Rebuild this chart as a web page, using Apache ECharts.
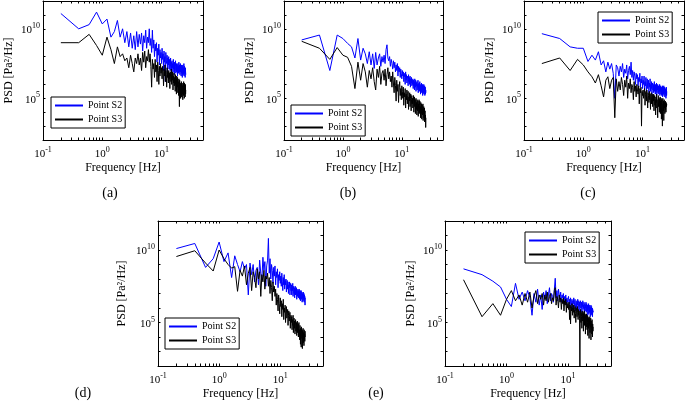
<!DOCTYPE html>
<html>
<head>
<meta charset="utf-8">
<script src="https://cdn.jsdelivr.net/npm/echarts@6/dist/echarts.min.js"></script>
<style>html,body{margin:0;padding:0;background:#fff}#c{width:685px;height:403px}</style>
</head>
<body>
<div id="c"></div>
<script>
// Frequency [Hz] of every PSD estimate (shared by all panels)
const freq = [
 0.2,0.4,0.6,0.8,1.0,1.2,1.4,1.6,1.8,2.0,
 2.2,2.4,2.6,2.8,3.0,3.2,3.4,3.6,3.8,4.0,
 4.2,4.4,4.6,4.8,5.0,5.2,5.4,5.6,5.8,6.0,
 6.2,6.4,6.6,6.8,7.0,7.2,7.4,7.6,7.8,8.0,
 8.2,8.4,8.6,8.8,9.0,9.2,9.4,9.6,9.8,10.0,
 10.2,10.4,10.6,10.8,11.0,11.2,11.4,11.6,11.8,12.0,
 12.2,12.4,12.6,12.8,13.0,13.2,13.4,13.6,13.8,14.0,
 14.2,14.4,14.6,14.8,15.0,15.2,15.4,15.6,15.8,16.0,
 16.2,16.4,16.6,16.8,17.0,17.2,17.4,17.6,17.8,18.0,
 18.2,18.4,18.6,18.8,19.0,19.2,19.4,19.6,19.8,20.0,
 20.2,20.4,20.6,20.8,21.0,21.2,21.4,21.6,21.8,22.0,
 22.2,22.4,22.6,22.8,23.0,23.2,23.4,23.6,23.8,24.0,
 24.2,24.4,24.6,24.8,25.0,25.2,25.4,25.6
];

// PSD values as log10(PSD / (Pa^2/Hz))
const s2_a = [
 11.1,10.0,10.3,11.2,10.35,10.7,9.4,9.8,10.6,9.4,
 10.0,9.0,9.8,8.7,9.7,8.6,9.5,8.5,9.8,8.7,
 9.6,8.9,9.7,8.4,9.5,9.0,9.9,8.6,9.4,9.0,
 10.0,8.8,9.3,8.3,9.9,8.6,9.2,8.0,8.9,8.4,
 9.0,7.6,8.6,8.1,8.9,7.4,8.5,7.9,8.3,7.5,
 8.6,7.8,8.2,7.0,8.4,7.6,8.0,6.2,8.3,7.7,7.5,8.1,6.9,7.9,7.4,8.0,7.1,7.8,7.5,7.0,7.9,7.3,7.6,6.8,7.7,
 7.2,7.5,6.9,7.8,7.1,7.4,6.7,7.6,7.0,7.3,7.7,6.8,7.2,7.5,6.9,7.4,7.1,6.6,7.5,7.0,7.3,6.8,7.6,7.1,6.9,
 7.4,6.7,7.2,7.5,6.9,7.1,6.6,7.4,7.0,6.8,7.3,6.5,7.1,7.4,6.9,6.7,7.2,6.8,7.5,6.6,7.0,7.3,6.8,7.1,6.5,7.2,6.9,6.7
];
const s3_a = [
 9.0,9.0,9.6,8.8,8.1,9.4,8.5,7.5,8.7,8.0,
 8.2,7.7,7.9,7.2,8.1,7.5,6.9,7.9,7.5,8.2,
 7.4,7.9,7.0,8.3,7.6,8.4,7.2,8.0,7.7,8.5,
 7.6,8.2,7.3,5.8,7.8,7.1,7.5,6.5,7.8,6.9,
 7.4,6.2,7.6,7.0,6.0,7.3,6.6,7.5,6.8,7.2,
 6.4,7.3,6.9,5.9,7.1,6.6,7.4,6.2,7.0,6.7,5.8,7.2,6.5,6.9,6.1,7.0,6.4,6.8,5.7,6.9,6.6,6.2,7.1,6.0,6.7,
 6.3,6.9,5.6,6.6,6.1,6.8,5.9,6.5,6.2,5.5,6.7,6.0,6.4,5.3,6.6,6.1,5.8,6.5,5.4,6.2,6.0,5.2,6.4,5.6,4.4,
 6.3,5.0,6.1,5.7,5.0,6.0,5.5,6.2,5.1,5.8,6.1,5.3,5.9,4.9,6.0,5.6,5.2,6.2,5.4,5.8,5.0,6.1,5.5,5.7,5.1,6.0,5.3,5.6
];
const s2_b = [
 9.2,9.55,7.0,9.55,9.3,8.95,8.7,7.9,9.3,7.75,
 8.6,8.2,7.5,8.35,7.4,8.2,7.15,8.3,7.4,7.9,
 8.2,7.3,8.0,7.6,8.1,7.5,8.5,8.85,7.9,7.7,
 8.0,7.3,7.8,7.5,7.1,7.7,7.2,7.6,6.9,7.4,
 7.0,7.5,6.6,7.3,6.9,7.2,6.5,7.1,6.8,6.4,
 7.0,6.6,6.9,6.2,6.8,6.5,6.0,6.9,6.3,6.7,6.1,6.6,6.4,5.9,6.7,6.2,6.5,6.0,6.6,5.8,6.4,6.1,6.5,5.9,6.3,
 6.0,6.4,5.7,6.3,5.9,6.2,5.6,6.4,6.0,5.8,6.3,5.5,6.1,5.9,6.2,5.6,6.0,5.8,6.3,5.4,6.0,5.7,6.1,5.5,5.9,
 6.2,5.6,5.9,5.3,6.0,5.7,5.5,6.1,5.4,5.8,5.6,6.0,5.2,5.7,5.9,5.4,5.6,6.0,5.3,5.7,5.5,5.9,5.2,5.6,5.8,5.3,5.6,5.4
];
const s3_b = [
 9.1,8.6,7.8,8.65,8.1,7.95,7.3,5.7,7.6,6.3,
 7.5,6.9,5.8,7.0,6.4,7.2,6.2,5.6,7.1,6.5,
 7.3,6.0,6.8,7.0,6.3,7.1,5.9,6.7,7.2,6.4,
 6.9,6.2,6.6,5.8,6.9,6.1,5.4,6.5,5.9,4.8,
 6.3,5.5,6.0,4.7,5.8,6.2,5.2,5.7,4.9,5.9,
 5.5,5.0,5.8,4.5,5.4,5.1,5.7,4.3,5.3,4.9,5.6,4.6,5.2,5.5,4.2,5.1,4.8,5.4,4.4,5.0,5.3,4.1,4.9,5.2,4.6,
 5.0,4.3,4.8,5.2,4.0,4.7,5.1,4.4,4.9,3.9,4.6,5.0,4.2,4.7,3.8,4.9,4.5,4.1,4.8,3.7,4.6,4.3,4.9,3.9,4.5,
 4.8,4.0,4.4,3.6,4.7,4.2,3.9,4.6,3.5,4.3,4.5,3.8,4.1,4.6,3.4,4.2,3.9,4.4,3.6,4.0,4.3,3.3,3.9,4.1,3.5,3.8,2.9,3.6
];
const s2_c = [
 9.65,9.3,8.7,8.6,8.6,7.65,8.1,7.75,8.35,7.4,
 7.7,6.9,7.6,7.1,7.5,6.8,5.0,7.4,7.2,6.6,
 7.3,6.9,7.5,6.5,7.1,6.8,7.4,6.4,7.0,7.3,
 6.7,7.6,6.5,7.0,6.3,6.9,6.6,6.0,6.8,6.4,
 6.7,5.9,6.5,6.2,6.8,5.8,6.4,6.1,6.6,5.7,
 6.3,6.0,6.6,5.6,6.2,5.9,6.5,5.5,6.1,6.4,5.7,6.0,6.3,5.4,6.1,5.8,6.4,5.5,6.0,5.7,6.2,5.3,5.9,6.1,5.6,
 6.0,5.4,5.8,6.2,5.5,5.9,5.3,6.0,5.7,5.5,6.1,5.2,5.8,5.6,6.0,5.4,5.7,5.9,5.3,5.8,5.5,6.0,5.2,5.7,5.5,
 5.9,5.3,5.6,5.8,5.2,5.7,5.5,5.9,5.1,5.6,5.8,5.3,5.5,5.9,5.2,5.6,5.4,5.8,5.1,5.5,5.7,5.3,5.6,5.0,5.5,5.8,5.2,5.5
];
const s3_c = [
 7.5,7.9,7.0,7.8,7.4,6.9,6.55,6.1,6.7,5.9,
 5.1,6.3,6.55,5.7,6.3,6.5,3.6,6.4,5.5,6.2,
 5.6,6.5,6.0,5.2,6.3,5.8,6.6,5.0,6.1,5.7,
 6.4,5.4,6.0,5.8,4.9,6.2,5.5,5.9,5.1,6.0,
 5.6,5.3,5.9,4.6,5.7,5.4,5.8,3.0,5.5,5.2,
 5.6,5.0,5.4,5.7,4.5,5.3,5.5,4.8,5.6,5.1,4.3,5.4,5.2,4.7,5.5,4.9,5.3,4.2,5.1,5.4,4.6,5.0,5.3,4.4,5.2,
 4.8,5.3,4.1,5.0,5.2,4.5,4.9,3.8,5.1,4.7,5.3,4.3,4.9,5.0,3.6,4.8,5.2,4.4,4.7,5.0,4.0,4.9,4.6,5.1,3.9,
 4.8,4.5,5.0,3.5,4.7,4.9,4.2,3.0,4.6,5.0,4.4,4.1,4.8,3.4,4.6,4.9,4.3,4.7,3.9,4.5,4.8,4.2,4.6,4.0,4.7,4.4,4.6,4.5
];
const s2_d = [
 10.1,10.45,8.8,9.4,10.55,9.2,9.8,8.1,9.6,9.0,
 8.5,9.2,8.7,9.0,6.9,9.1,8.3,9.0,7.8,8.6,
 8.8,7.6,9.3,8.4,7.9,9.5,8.6,9.2,7.5,8.9,
 9.3,10.8,8.4,9.4,8.0,9.0,8.6,7.7,8.8,8.2,
 8.9,7.6,8.5,8.1,8.7,7.4,8.3,7.9,8.5,7.7,
 8.2,7.5,8.4,7.8,7.2,8.1,7.6,8.3,7.3,7.9,7.6,8.0,7.1,7.7,7.9,7.3,7.8,7.0,7.6,7.4,7.8,6.9,7.5,7.7,7.2,
 7.6,6.9,7.4,7.2,7.7,6.8,7.3,7.5,7.0,7.4,6.7,7.2,7.5,6.9,7.3,7.0,7.4,6.6,7.2,7.1,6.8,7.3,7.0,6.7,7.2,
 6.9,7.3,6.6,7.1,6.8,7.2,6.5,7.0,6.9,7.2,6.6,6.8,7.1,6.4,7.0,6.7,6.9,6.5,7.1,6.6,6.8,7.0,6.4,6.9,6.6,6.8,6.2,6.7
];
const s3_d = [
 9.55,9.95,9.1,8.55,10.0,9.4,9.0,8.75,8.85,7.15,
 8.6,8.2,8.9,7.6,8.4,8.8,7.2,8.5,8.1,7.4,
 8.7,8.0,8.5,6.8,8.3,7.8,8.6,7.3,8.2,8.0,
 8.4,7.5,8.1,7.0,7.9,7.4,6.5,7.8,7.1,7.5,
 6.8,7.3,6.2,7.0,6.6,5.8,6.9,6.3,5.6,6.7,
 6.1,6.5,5.4,6.3,5.9,6.6,5.2,6.0,5.7,6.2,5.0,5.8,6.1,5.3,5.6,5.9,4.8,5.5,5.8,5.1,5.4,5.7,4.6,5.3,5.5,
 5.0,5.4,4.5,5.2,4.8,5.5,4.3,5.0,5.3,4.6,5.1,4.2,4.9,5.2,4.4,4.7,5.0,4.1,4.8,5.1,4.3,4.6,4.9,4.0,4.7,
 5.0,4.2,4.5,3.8,4.8,4.4,3.5,4.6,4.1,3.3,4.7,4.3,3.9,4.5,3.2,4.4,4.0,4.6,3.6,4.3,4.1,3.4,4.5,3.9,4.2,3.7,4.4,4.0
];
const s2_e = [
 8.7,8.3,7.85,7.45,6.6,6.1,7.7,6.6,7.1,6.5,
 7.2,6.7,5.5,7.0,6.4,7.3,6.2,6.9,5.9,7.1,
 6.6,7.2,6.3,6.9,7.4,6.5,7.0,6.8,6.4,7.3,
 8.05,6.7,7.2,6.5,7.3,6.9,6.6,7.1,6.4,6.9,
 6.7,7.0,6.3,6.8,6.5,6.9,6.2,6.7,6.4,6.6,
 6.8,6.3,6.6,6.0,6.7,6.4,6.2,6.6,5.9,6.5,6.3,6.7,6.1,6.4,6.6,5.8,6.3,6.5,6.0,6.4,6.2,6.6,5.9,6.3,6.5,
 6.1,6.4,5.8,6.3,6.5,6.0,6.2,6.4,5.7,6.3,6.1,6.5,5.9,6.2,6.0,6.4,5.6,6.1,6.3,5.8,6.2,6.0,6.4,5.7,6.1,
 6.3,5.8,6.0,6.2,5.5,6.1,5.9,6.3,5.6,6.0,6.2,5.7,5.9,6.1,5.4,6.0,5.8,6.2,5.5,5.9,6.1,5.6,5.8,6.0,5.4,5.9,5.7,5.8
];
const s3_e = [
 7.95,5.4,6.3,5.5,6.6,7.2,6.5,6.9,6.2,7.0,
 6.4,7.1,6.0,6.8,7.2,6.3,6.9,6.6,7.0,6.2,
 6.9,6.5,7.1,6.4,6.8,7.0,6.3,6.7,6.5,7.2,
 7.4,6.2,6.8,6.6,6.0,6.9,6.4,6.7,5.9,6.6,
 6.3,6.7,5.8,6.5,6.2,6.6,5.7,6.4,6.0,6.3,
 5.9,6.4,5.2,6.2,4.9,6.1,5.8,6.3,5.5,6.0,5.7,6.2,5.3,5.9,6.1,5.6,5.0,6.0,5.8,5.4,6.1,5.7,5.2,5.9,5.5,
 5.8,5.3,1.8,5.6,5.9,5.0,5.7,5.4,4.6,5.8,5.5,5.1,5.7,4.4,5.6,5.3,5.8,4.8,5.4,5.6,4.2,5.5,5.2,4.7,5.6,
 5.3,4.5,5.5,5.0,4.1,5.4,5.1,4.6,5.3,3.9,5.2,4.8,5.4,4.3,5.0,4.7,5.3,3.8,5.1,4.6,4.9,4.2,5.2,4.5,4.0,4.9,4.4,4.7
];

const seriesNames = ['Point S2', 'Point S3'];
const captions = ['(a)', '(b)', '(c)', '(d)', '(e)'];
// x tick labels (10^exp) and tick marks in Hz
const xTickValues = [0.1, 1, 10];
const xTickExp = ['-1', '0', '1'];
const xTickMarks = [0.1,0.2,0.3,0.4,0.5,0.6,0.7,0.8,0.9,1,2,3,4,5,6,7,8,9,10,20,30,40];
// y tick labels, in log10 units
const yTickValues = [5, 10];
const yTickExp = ['5', '10'];

const S2 = [s2_a, s2_b, s2_c, s2_d, s2_e];
const S3 = [s3_a, s3_b, s3_c, s3_d, s3_e];

// ---- layout / style (not data) ----
const FONT = 'Liberation Serif';
const gridRects = [
  {left: 43,  top: 1,   width: 160, height: 139},
  {left: 284, top: 1,   width: 159, height: 139},
  {left: 524, top: 1,   width: 160, height: 139},
  {left: 158, top: 221, width: 165, height: 145},
  {left: 445, top: 221, width: 166, height: 145}
];
const legendPos = [[51, 97], [291, 105], [598, 12], [165, 318], [525, 232]];
const captionPos = [[110, 193], [348, 193], [588, 193], [83, 393], [376, 393]];
const yNameGap = [28, 28, 28, 30, 28];
const colors = ['#0000ff', '#000000'];

const rich = {
  b: {fontFamily: FONT, fontSize: 11, color: '#000', lineHeight: 14, verticalAlign: 'bottom'},
  s: {fontFamily: FONT, fontSize: 8, color: '#000', lineHeight: 8, verticalAlign: 'top'}
};
function xFmt(v) {
  const k = xTickValues.findIndex(t => Math.abs(Math.log10(t) - Math.log10(v)) < 1e-6);
  return k < 0 ? '' : '{b|10}{s|' + xTickExp[k] + '}';
}
function yFmt(v) {
  const k = yTickValues.findIndex(t => Math.abs(t - v) < 1e-6);
  return k < 0 ? '' : '{b|10}{s|' + yTickExp[k] + '}';
}
const blackLine = {show: true, onZero: false, lineStyle: {color: '#000', width: 1}};
const nameStyle = {fontFamily: FONT, fontSize: 12, color: '#000'};

const grid = [], xAxis = [], yAxis = [], series = [], legend = [], title = [];
gridRects.forEach((r, p) => {
  grid.push(Object.assign({show: false, containLabel: false}, r));
  const xBase = {type: 'log', logBase: 10, gridIndex: p, min: 0.1, max: 50,
    splitLine: {show: false}, minorTick: {show: false}, axisLine: blackLine,
    axisTick: {show: true, inside: true, length: 2.5, customValues: xTickMarks, lineStyle: {color: '#000', width: 1}}};
  xAxis.push(Object.assign({}, xBase, {position: 'bottom',
    axisLabel: {show: true, customValues: xTickValues, formatter: xFmt, rich: rich, margin: 6, color: '#000'},
    name: 'Frequency [Hz]', nameLocation: 'middle', nameGap: 22, nameTextStyle: nameStyle}));
  xAxis.push(Object.assign({}, xBase, {position: 'top', axisLabel: {show: false}}));
  const yBase = {type: 'value', gridIndex: p, min: 2, max: 12, interval: 1,
    splitLine: {show: false}, axisLine: blackLine,
    axisTick: {show: true, inside: true, length: 2.5, lineStyle: {color: '#000', width: 1}}};
  yAxis.push(Object.assign({}, yBase, {position: 'left',
    axisLabel: {show: true, customValues: yTickValues, formatter: yFmt, rich: rich, margin: 3, color: '#000'},
    name: 'PSD [Pa²/Hz]', nameLocation: 'middle', nameGap: yNameGap[p], nameTextStyle: nameStyle}));
  yAxis.push(Object.assign({}, yBase, {position: 'right', axisLabel: {show: false}}));

  [S2[p], S3[p]].forEach((vals, k) => {
    series.push({
      type: 'line', name: seriesNames[k], xAxisIndex: 2 * p, yAxisIndex: 2 * p,
      data: freq.map((f, i) => [f, vals[i]]),
      showSymbol: false, symbol: 'none', clip: true, silent: true,
      lineStyle: {color: colors[k], width: 1}, itemStyle: {color: colors[k]}, z: 2 + k
    });
  });

  legend.push({
    data: seriesNames, orient: 'vertical', left: legendPos[p][0], top: legendPos[p][1],
    backgroundColor: '#fff', borderColor: '#000', borderWidth: 1, borderRadius: 0,
    padding: [2, 3, 2, 4], itemGap: 1, itemWidth: 28, itemHeight: 2, icon: 'rect',
    selectedMode: false, z: 10,
    textStyle: {fontFamily: FONT, fontSize: 10, color: '#000', lineHeight: 13}
  });
  title.push({
    text: captions[p], left: captionPos[p][0], top: captionPos[p][1],
    textAlign: 'center', textVerticalAlign: 'middle', padding: 0,
    textStyle: {fontFamily: FONT, fontSize: 14, fontWeight: 'normal', color: '#000'}
  });
});

const chart = echarts.init(document.getElementById('c'), null, {renderer: 'canvas'});
chart.setOption({
  animation: false, backgroundColor: '#fff',
  textStyle: {fontFamily: FONT},
  grid, xAxis, yAxis, series, legend, title
});
</script>
</body>
</html>
